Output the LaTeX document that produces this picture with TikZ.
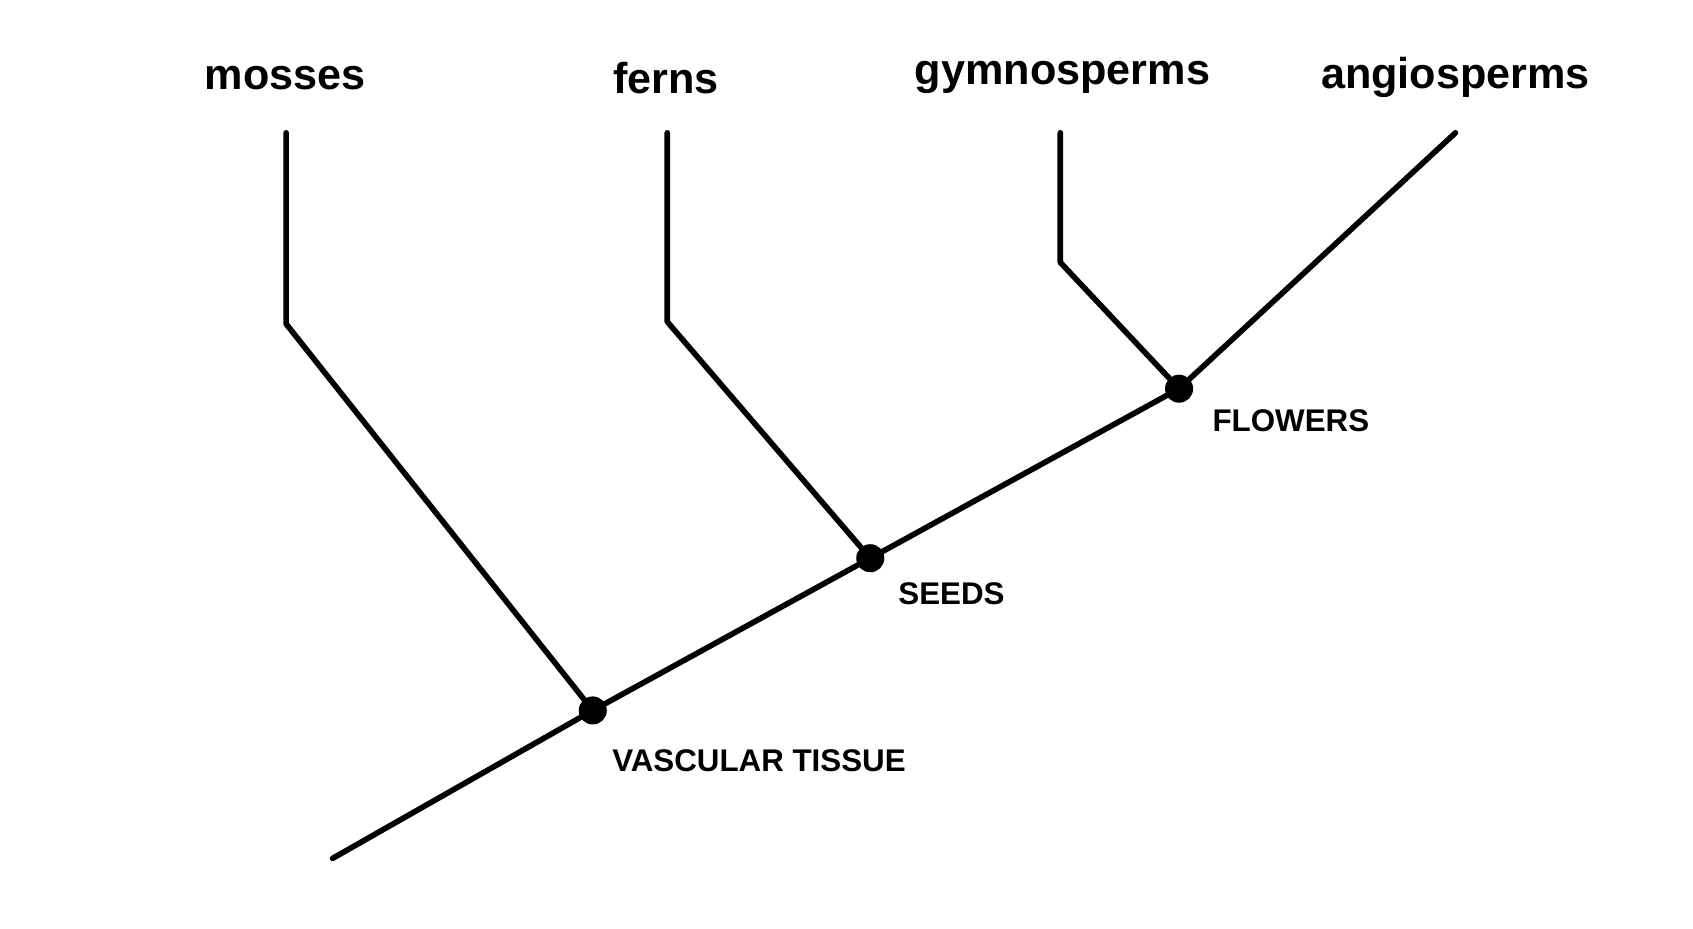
\documentclass[tikz,border=0pt]{standalone}
\usepackage{fontspec}
\setmainfont{Liberation Sans}
\begin{document}
\begin{tikzpicture}[x=0.5pt,y=-0.5pt,
  br/.style={line width=2.6pt,line cap=round,line join=round},
  dot/.style={circle,fill=black,inner sep=0pt,minimum size=13pt},
  taxon/.style={font=\fontsize{20}{24}\selectfont\bfseries},
  trait/.style={font=\fontsize{14.5}{17}\selectfont\bfseries,anchor=west}]
\useasboundingbox (0,0) rectangle (1568,860);
\coordinate (root) at (308,795);
\node[dot] (V) at (549,658) {};
\node[dot] (S) at (806,517) {};
\node[dot] (F) at (1092,360) {};
\coordinate (ang) at (1348,123);
\coordinate (mt) at (265,123); \coordinate (mb) at (265,300);
\coordinate (ft) at (618,123); \coordinate (fb) at (618,298);
\coordinate (gt) at (982,123); \coordinate (gb) at (982,243);
\draw[br] (root) -- (V.center) -- (S.center) -- (F.center) -- (ang);
\draw[br] (mt) -- (mb) -- (V.center);
\draw[br] (ft) -- (fb) -- (S.center);
\draw[br] (gt) -- (gb) -- (F.center);
\node[taxon] (m) at (264,72) {mosses};
\node[taxon] (f) at (617,72) {ferns};
\node[taxon] (g) at (984,72) {gymnosperms};
\node[taxon] (a) at (1348,72) {angiosperms};
\node[trait] (vt) at (560,705) {VASCULAR TISSUE};
\node[trait] (st) at (825,550) {SEEDS};
\node[trait] (fl) at (1116,390) {FLOWERS};
\end{tikzpicture}
\end{document}
